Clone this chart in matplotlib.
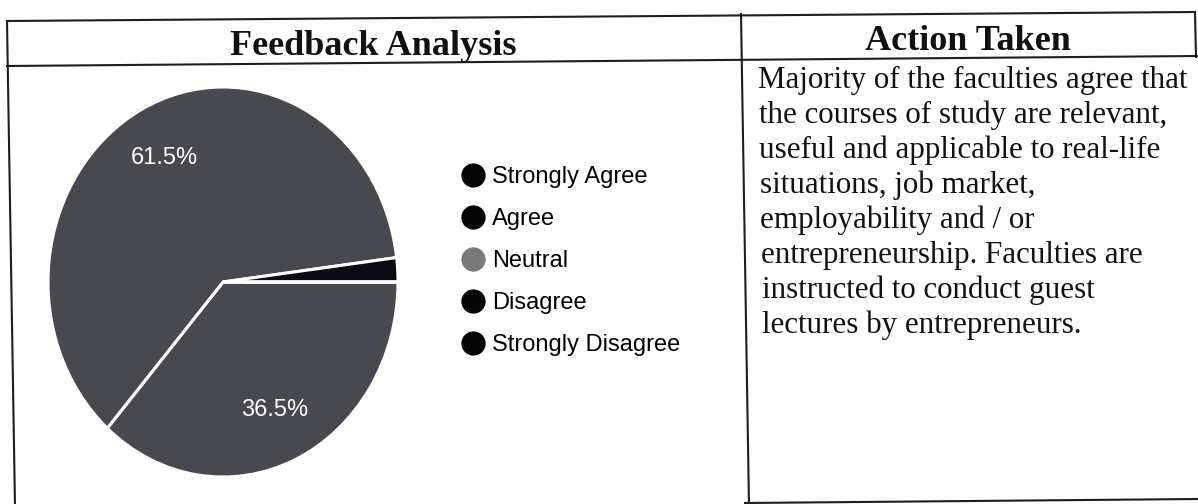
import matplotlib
matplotlib.use("Agg")
import matplotlib.pyplot as plt
from matplotlib.lines import Line2D

# ---------------- data ----------------
categories = ["Strongly Agree", "Agree", "Neutral", "Disagree", "Strongly Disagree"]
percent_values = [36.5, 61.5, 2.0, 0.0, 0.0]
slice_colors = ["#48494f", "#48494f", "#0b0b16", "#0b0b16", "#0b0b16"]
legend_colors = ["#050505", "#050505", "#7a7a7a", "#050505", "#050505"]
header_left = "Feedback Analysis"
header_right = "Action Taken"
action_lines = [
    "Majority of the faculties agree that",
    "the courses of study are relevant,",
    "useful and applicable to real-life",
    "situations, job market,",
    "employability and / or",
    "entrepreneurship. Faculties are",
    "instructed to conduct guest",
    "lectures by entrepreneurs.",
]

W, H = 1198, 504
fig = plt.figure(figsize=(W / 100, H / 100), dpi=100)
fig.patch.set_facecolor("white")

# overlay axes in pixel coordinates (for the table frame and text)
ov = fig.add_axes([0, 0, 1, 1])
ov.set_xlim(0, W)
ov.set_ylim(H, 0)
ov.axis("off")

lc = "#1e1e1e"
lw = 1.5
# table frame (scanned, slightly skewed)
ov.plot([7, 1195], [21, 12], color=lc, lw=lw)          # top
ov.plot([7, 1198], [66, 56], color=lc, lw=lw)          # header bottom
ov.plot([7, 15], [21, 506], color=lc, lw=lw)           # left
ov.plot([741, 749], [14, 506], color=lc, lw=lw)        # middle divider
ov.plot([1195, 1196], [12, 57], color=lc, lw=lw)       # right (header only)
ov.plot([745, 1198], [503, 499], color=lc, lw=lw)      # bottom

serif = ["Liberation Serif", "DejaVu Serif"]
sans = ["Liberation Sans", "DejaVu Sans"]

ov.text(373, 55, header_left, family=serif, fontweight="bold", fontsize=26,
        ha="center", va="baseline", color="#111111")
ov.text(968, 50, header_right, family=serif, fontweight="bold", fontsize=26,
        ha="center", va="baseline", color="#111111")

for i, line in enumerate(action_lines):
    ov.text(758 + i * 0.6, 88 + i * 35.0, line, family=serif, fontsize=22.3,
            ha="left", va="baseline", color="#111111")

# ---------------- pie ----------------
cx, cy, rx, ry = 223, 282, 175, 195
pax = fig.add_axes([(cx - rx) / W, (H - (cy + ry)) / H, 2 * rx / W, 2 * ry / H])


def fmt(p):
    return f"{p:.1f}%" if p >= 5 else ""


wedges, texts, autotexts = pax.pie(
    percent_values, colors=slice_colors, startangle=0, counterclock=False,
    autopct=fmt, pctdistance=0.72,
    wedgeprops=dict(edgecolor="white", linewidth=2.2),
    textprops=dict(color="white", family=sans, fontsize=17),
)
pax.set_aspect("auto")
pax.set_xlim(-1, 1)
pax.set_ylim(-1, 1)
pax.axis("off")
for w in wedges:
    w.set_clip_on(False)

# ---------------- legend ----------------
handles = [Line2D([0], [0], marker="o", linestyle="none", markersize=16.5,
                  markerfacecolor=c, markeredgecolor=c) for c in legend_colors]
fig.legend(handles, categories, loc="upper left",
           bbox_to_anchor=(459 / W, 1 - 166 / H), frameon=False,
           prop=dict(family=sans, size=17), labelspacing=0.845,
           handletextpad=0.2, handlelength=1.2, borderpad=0, borderaxespad=0)

fig.savefig("out.png", dpi=100, facecolor="white")
